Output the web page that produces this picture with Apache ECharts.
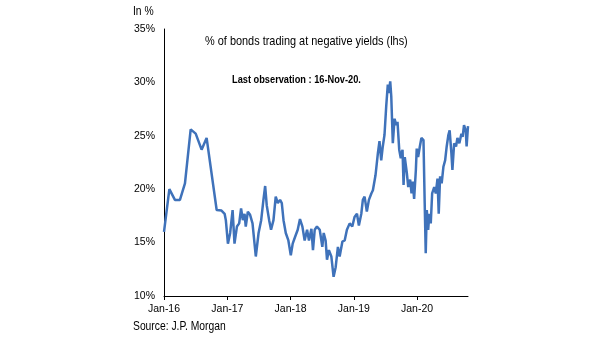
<!DOCTYPE html>
<html>
<head>
<meta charset="utf-8">
<script src="https://cdn.jsdelivr.net/npm/echarts@6/dist/echarts.min.js"></script>
<style>
html,body{margin:0;padding:0;background:#fff;}
#c{width:605px;height:341px;}
</style>
</head>
<body>
<div id="c"></div>
<script>
const dates = [
"2016-01-01","2016-02-01","2016-03-04","2016-04-02","2016-05-01","2016-06-03","2016-07-02","2016-08-05","2016-09-03","2016-10-31",
"2016-11-28","2016-12-16","2016-12-23","2017-01-04","2017-01-17","2017-01-31","2017-02-11","2017-02-25","2017-03-10","2017-03-21",
"2017-03-31","2017-04-10","2017-04-17","2017-04-29","2017-05-12","2017-05-26","2017-06-14","2017-06-30","2017-07-15","2017-07-28",
"2017-08-07","2017-08-16","2017-08-30","2017-09-10","2017-09-24","2017-10-07","2017-10-19","2017-11-01","2017-11-11","2017-11-21",
"2017-12-04","2017-12-19","2018-01-02","2018-01-13","2018-01-26","2018-02-11","2018-02-24","2018-03-10","2018-03-23","2018-04-06",
"2018-04-17","2018-05-01","2018-05-10","2018-05-20","2018-06-02","2018-06-18","2018-07-03","2018-07-11","2018-07-22","2018-07-30",
"2018-08-10","2018-08-24","2018-09-06","2018-09-18","2018-10-01","2018-10-11","2018-10-27","2018-11-09","2018-11-22","2018-12-08",
"2018-12-23","2019-01-05","2019-01-19","2019-01-30","2019-02-13","2019-02-22","2019-03-04","2019-03-17","2019-03-29","2019-04-12",
"2019-04-21","2019-05-06","2019-05-20","2019-05-29","2019-06-08","2019-06-17","2019-06-27","2019-07-07","2019-07-16","2019-07-22",
"2019-07-30","2019-08-05","2019-08-14","2019-08-24","2019-09-03","2019-09-10","2019-09-20","2019-09-29","2019-10-09","2019-10-15",
"2019-10-22","2019-11-03","2019-11-11","2019-11-22","2019-11-30","2019-12-07","2019-12-15","2019-12-25","2019-12-30","2020-01-07",
"2020-01-17","2020-01-26","2020-02-07","2020-02-14","2020-02-20","2020-02-26","2020-03-05","2020-03-12","2020-03-20","2020-03-28",
"2020-04-09","2020-04-18","2020-04-28","2020-05-05","2020-05-13","2020-05-22","2020-06-01","2020-06-11","2020-06-20","2020-06-30",
"2020-07-07","2020-07-17","2020-07-23","2020-08-02","2020-08-13","2020-08-21","2020-09-01","2020-09-13","2020-09-20","2020-09-28",
"2020-10-08","2020-10-13","2020-10-21"
];
const negYieldPct = [
16.0,20.0,19.0,19.0,20.55,25.6,25.2,23.7,24.8,18.05,
18.0,17.7,17.1,14.9,15.9,18.05,14.9,16.5,16.8,18.2,
17.1,17.7,16.5,17.9,17.6,16.8,13.7,15.9,17.1,19.0,
20.3,18.5,17.1,16.2,17.1,19.3,18.7,19.0,18.7,17.1,
15.9,15.2,13.8,14.9,15.5,16.2,17.2,16.5,15.2,16.2,
15.2,16.3,14.3,16.2,16.5,16.2,14.6,15.9,15.2,13.4,
14.3,13.7,11.8,12.7,14.6,13.7,15.1,15.2,16.2,16.8,
16.5,17.4,17.7,16.6,17.7,19.0,19.3,17.9,19.0,19.6,
19.9,21.3,23.4,24.5,22.7,24.0,25.1,27.8,29.8,29.0,
30.1,28.7,24.3,26.6,26.0,26.3,23.7,22.9,23.7,20.4,
23.0,21.5,20.2,20.9,19.6,20.7,19.1,21.8,23.8,23.0,
24.0,24.8,24.6,18.7,14.0,18.05,16.2,17.7,16.8,19.6,
20.2,19.6,21.0,17.7,21.2,20.55,22.1,22.7,24.0,25.1,
25.5,23.4,21.8,24.3,24.0,24.8,24.3,25.2,24.9,26.0,
25.5,24.0,25.9
];
const yTicks = [10, 35, 5];
const titleText = "% of bonds trading at negative yields (lhs)";
const noteText = "Last observation : 16-Nov-20.";
const unitText = "In %";
const sourceText = "Source: J.P. Morgan";

const chart = echarts.init(document.getElementById('c'), null, {renderer: 'canvas'});
const FONT = '"Liberation Sans", Arial, sans-serif';
chart.setOption({
  animation: false,
  backgroundColor: '#fff',
  grid: {left: 164, right: 137, top: 29, bottom: 45, containLabel: false},
  graphic: [
    {type: 'text', left: 133, top: 6, scaleX: 0.86, style: {text: unitText, font: '12px ' + FONT, fill: '#000'}},
    {type: 'text', left: 205, top: 35, scaleX: 0.84, style: {text: titleText, font: '13px ' + FONT, fill: '#000'}},
    {type: 'text', left: 232, top: 74, scaleX: 0.84, style: {text: noteText, font: 'bold 11px ' + FONT, fill: '#000'}},
    {type: 'text', left: 133, top: 321, scaleX: 0.86, style: {text: sourceText, font: '12px ' + FONT, fill: '#000'}}
  ],
  xAxis: {
    type: 'time',
    min: dates[0],
    max: dates[dates.length - 1],
    minInterval: 365 * 24 * 3600 * 1000,
    splitLine: {show: false},
    axisLine: {lineStyle: {color: '#000', width: 1}},
    axisTick: {show: true, length: 4, lineStyle: {color: '#000'}},
    minorTick: {show: false},
    axisLabel: {
      color: '#000', fontFamily: FONT, fontSize: 10.5, margin: 8,
      showMinLabel: true, showMaxLabel: false,
      formatter: function (v) {
        const d = new Date(v);
        if (d.getMonth() === 0 && d.getDate() === 1) {
          return 'Jan-' + String(d.getFullYear()).slice(2);
        }
        return '';
      }
    }
  },
  yAxis: {
    type: 'value',
    min: yTicks[0], max: yTicks[1], interval: yTicks[2],
    splitLine: {show: false},
    axisLine: {show: true, lineStyle: {color: '#000', width: 1}},
    axisTick: {show: false},
    axisLabel: {color: '#000', fontFamily: FONT, fontSize: 10.5, margin: 9, formatter: '{value}%'}
  },
  series: [{
    type: 'line',
    data: dates.map((d, i) => [d, negYieldPct[i]]),
    showSymbol: false,
    lineStyle: {color: '#3F72BA', width: 2.5},
    itemStyle: {color: '#3F72BA'}
  }]
});
</script>
</body>
</html>
